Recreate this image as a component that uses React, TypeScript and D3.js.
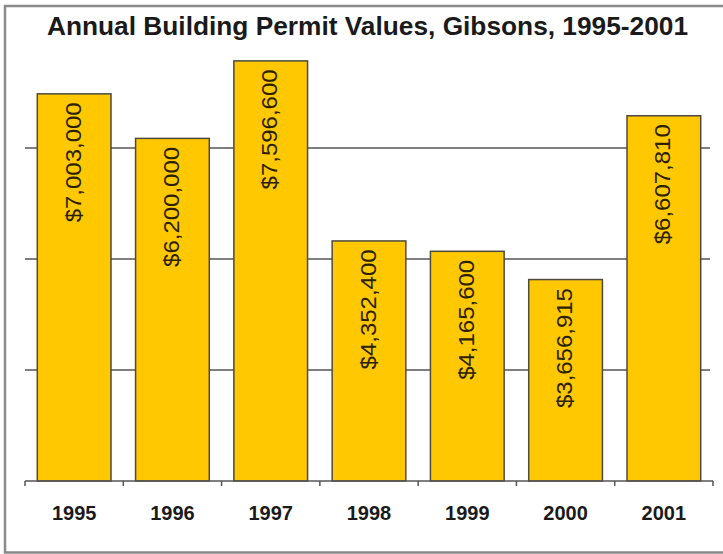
import React from "react";
import * as d3 from "d3";

const years = ["1995", "1996", "1997", "1998", "1999", "2000", "2001"];
const values = [7003000, 6200000, 7596600, 4352400, 4165600, 3656915, 6607810];
const gridTicks = [2000000, 4000000, 6000000];
const title = "Annual Building Permit Values, Gibsons, 1995-2001";

const W = 723;
const H = 554;
const left = 25;
const right = 713;
const baseY = 481;
const topY = 37;

export default function App() {
  const x = d3.scaleBand<string>().domain(years).range([left, right]).paddingInner(0.25).paddingOuter(0.125);
  const y = d3.scaleLinear().domain([0, 8000000]).range([baseY, topY]);
  const step = x.step();
  const fmt = (v: number) => "$" + d3.format(",")(v);
  const font = "'Liberation Sans', Arial, sans-serif";
  const boundaries = years.map((d) => (x(d) as number) - (step * 0.25) / 2);
  boundaries.push(right);

  return (
    <svg width={W} height={H} style={{ position: "absolute", left: 0, top: 0 }}>
      <rect x={0} y={0} width={W} height={H} fill="#fff" />
      <rect x={5} y={6} width={W + 5} height={H - 6 - 1.5} fill="none" stroke="#8a8a8a" strokeWidth={2.5} />
      <text
        x={47}
        y={35}
        textLength={641}
        lengthAdjust="spacingAndGlyphs"
        fontFamily={font}
        fontWeight="bold"
        fontSize={25}
        fill="#1a1a1a"
      >
        {title}
      </text>
      {gridTicks.map((t) => (
        <line key={t} x1={left} x2={right - 3} y1={y(t)} y2={y(t)} stroke="#555" strokeWidth={1.5} />
      ))}
      {years.map((d, i) => (
        <rect
          key={d}
          x={x(d)}
          y={y(values[i]) + 1.5}
          width={x.bandwidth()}
          height={baseY - y(values[i]) - 1.5}
          fill="#FFC800"
          stroke="#4d4a40"
          strokeWidth={1.5}
        />
      ))}
      {years.map((d, i) => {
        const cx = (x(d) as number) + x.bandwidth() / 2;
        const ty = y(values[i]) + 10;
        return (
          <text
            key={d}
            transform={`translate(${cx + 6.5},${ty}) rotate(-90)`}
            textAnchor="end"
            textLength={120}
            lengthAdjust="spacingAndGlyphs"
            fontFamily={font}
            fontSize={22}
            fill="#2a2200"
          >
            {fmt(values[i])}
          </text>
        );
      })}
      <line x1={left} x2={right} y1={baseY} y2={baseY} stroke="#555" strokeWidth={1.5} />
      {boundaries.map((b, i) => (
        <line key={i} x1={b} x2={b} y1={baseY} y2={baseY + 5} stroke="#555" strokeWidth={1.5} />
      ))}
      {years.map((d) => (
        <text
          key={d}
          x={(x(d) as number) + x.bandwidth() / 2}
          y={520}
          textAnchor="middle"
          fontFamily={font}
          fontWeight="bold"
          fontSize={20}
          fill="#1a1a1a"
        >
          {d}
        </text>
      ))}
    </svg>
  );
}
